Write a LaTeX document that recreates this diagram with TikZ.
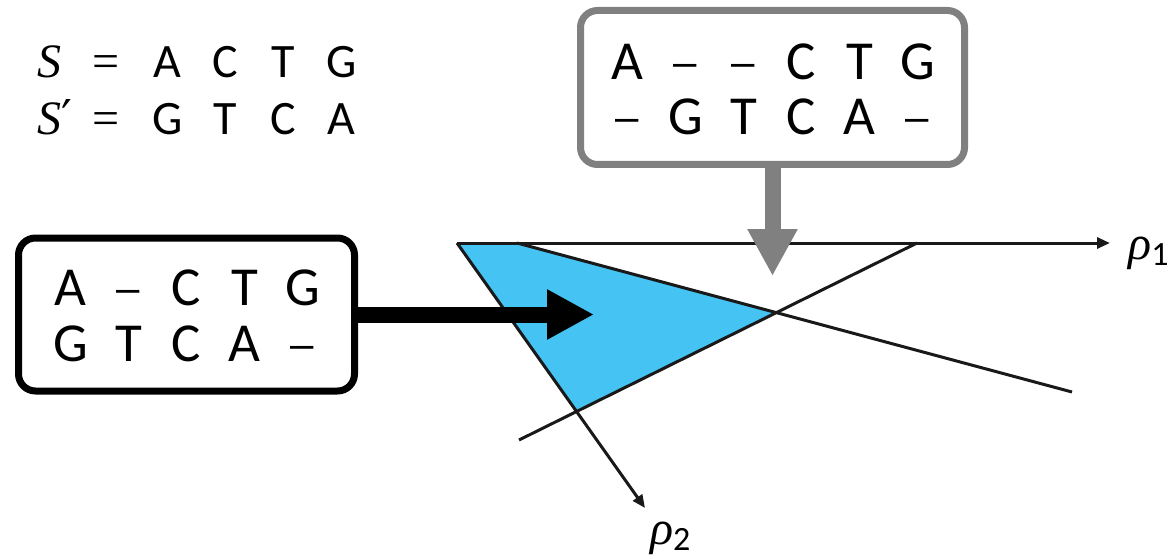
\documentclass[tikz,border=0pt]{standalone}
\usepackage{fontspec}
\setmainfont{Carlito}
\newfontfamily\varfont{Liberation Serif}
\newfontfamily\symfont{DejaVu Serif}
\newfontfamily\dashfont{Liberation Sans}
\usetikzlibrary{arrows.meta}
\definecolor{fillblue}{RGB}{69,195,242}
\definecolor{boxgray}{RGB}{128,128,128}
\newcommand{\cellx}[1]{\makebox[58pt]{#1}}
\newcommand{\varit}[1]{{\varfont\itshape #1}}
\newcommand{\gap}{\raisebox{3pt}{\dashfont\fontsize{42}{50}\selectfont –}}
\newcommand{\subdigit}[1]{\raisebox{-6pt}{\fontsize{34}{40}\selectfont #1}}
\begin{document}
\begin{tikzpicture}[x=1pt,y=-1pt,
  seqbox/.style={draw, line width=7pt, rounded corners=17pt, inner sep=0pt, fill=white},
  seqrow/.style={anchor=base, inner sep=0pt, font=\fontsize{55}{66}\selectfont},
  toprow/.style={anchor=base west, inner sep=0pt, font=\fontsize{48}{58}\selectfont},
  axislabel/.style={anchor=base west, inner sep=0pt, font=\fontsize{48}{58}\selectfont},
  axisline/.style={line width=3pt, draw=black!90, -{Triangle[length=13pt,width=11pt]}},
  cutline/.style={line width=3pt, draw=black!90},
  bigarrow/.style={line width=16pt, -{Triangle[length=47pt,width=47pt]}},
]
\useasboundingbox (0,0) rectangle (1173,559);

% coordinates of the plot
\coordinate (O) at (457,243);
\coordinate (R1) at (1110,243);
\coordinate (R2) at (645,508);
\coordinate (A1) at (517,243);
\coordinate (B1) at (1072,392);
\coordinate (A2) at (917,243);
\coordinate (B2) at (519,440);
\coordinate (X12) at (intersection of A1--B1 and A2--B2);
\coordinate (X2) at (intersection of O--R2 and A2--B2);

% feasible region
\fill[fillblue] (O) -- (A1) -- (X12) -- (X2) -- cycle;

% constraint lines
\draw[cutline] (A1) -- (B1);
\draw[cutline] (A2) -- (B2);

% axes
\draw[axisline] (O) -- (R1);
\draw[axisline] (O) -- (R2);
\node[axislabel] (rho1) at (1128,259) {\varit{ρ}\subdigit{1}};
\node[axislabel] (rho2) at (650,544) {\varit{ρ}\subdigit{2}};

% sequences
\node[toprow] (s1) at (37,78) {\makebox[48pt][l]{\varit{S}}\makebox[42pt]{\varfont =}\hspace{11pt}\cellx{A}\cellx{C}\cellx{T}\cellx{G}};
\node[toprow] (s2) at (37,135) {\makebox[48pt][l]{\varit{S}{\symfont ′}}\makebox[42pt]{\varfont =}\hspace{11pt}\cellx{G}\cellx{T}\cellx{C}\cellx{A}};

% left alignment box
\node[seqbox, minimum width=336pt, minimum height=153pt] (lbox) at (186.5,314.5) {};
\node[seqrow] (l1) at (186.5,305) {\cellx{A}\cellx{\gap}\cellx{C}\cellx{T}\cellx{G}};
\node[seqrow] (l2) at (186.5,361) {\cellx{G}\cellx{T}\cellx{C}\cellx{A}\cellx{\gap}};

% top alignment box
\node[seqbox, draw=boxgray, minimum width=384pt, minimum height=154pt] (gbox) at (772.5,87.5) {};
\node[seqrow] (g1) at (772.5,80) {\cellx{A}\cellx{\gap}\cellx{\gap}\cellx{C}\cellx{T}\cellx{G}};
\node[seqrow] (g2) at (772.5,135) {\cellx{\gap}\cellx{G}\cellx{T}\cellx{C}\cellx{A}\cellx{\gap}};

% arrows
\coordinate (ltip) at (594,314.5);
\coordinate (gtip) at (772.5,276);
\draw[bigarrow, black] (lbox.east) -- (ltip);
\draw[bigarrow, boxgray] (gbox.south) -- (gtip);
\end{tikzpicture}
\end{document}
